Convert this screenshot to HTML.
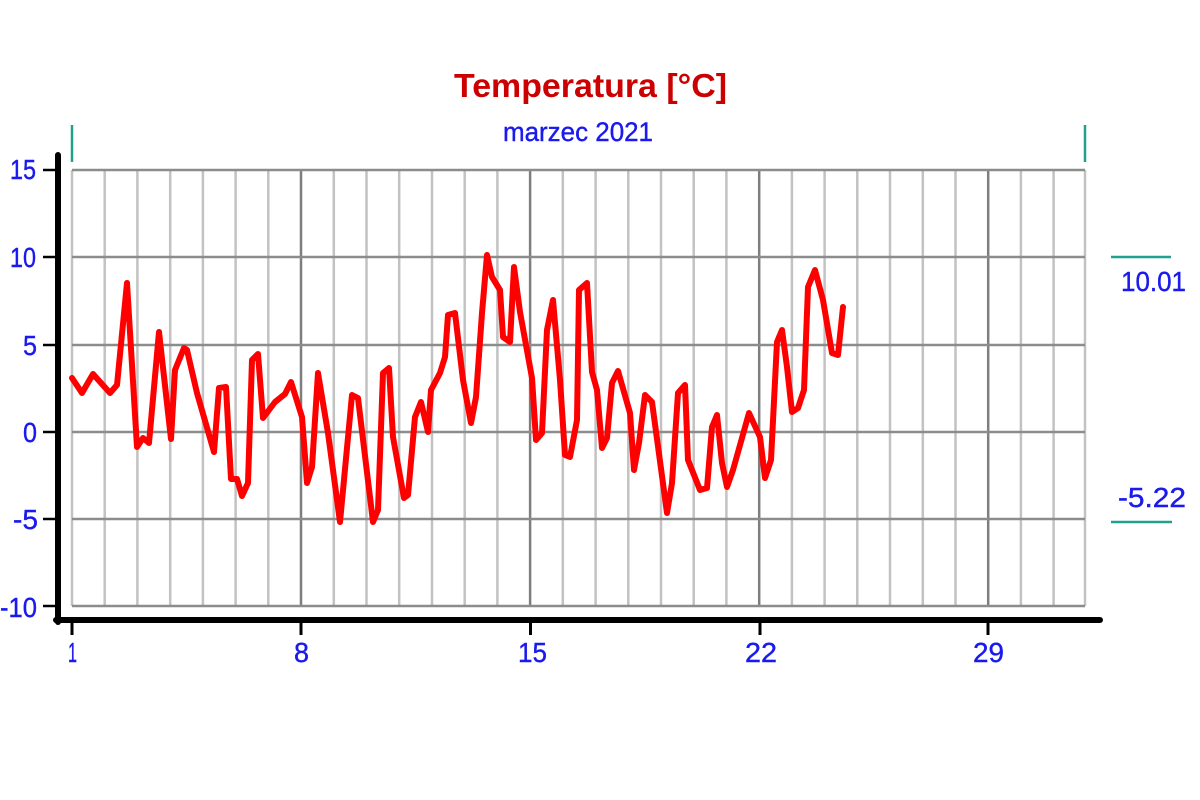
<!DOCTYPE html>
<html>
<head>
<meta charset="utf-8">
<style>
  html,body{margin:0;padding:0;background:#fff;}
  svg{display:block;}
  text{font-family:"Liberation Sans",sans-serif;}
</style>
</head>
<body>
<svg width="1200" height="800" viewBox="0 0 1200 800" xmlns="http://www.w3.org/2000/svg">
  <rect x="0" y="0" width="1200" height="800" fill="#ffffff"/>

  <!-- Title -->
  <text x="454" y="97" font-size="33" font-weight="bold" fill="#cc0000" textLength="273" lengthAdjust="spacingAndGlyphs">Temperatura [°C]</text>
  <text x="503" y="141" font-size="27" fill="#1a1aee" stroke="#1a1aee" stroke-width="0.4" textLength="150" lengthAdjust="spacingAndGlyphs">marzec 2021</text>

  <!-- teal top ticks -->
  <line x1="72" y1="125" x2="72" y2="162" stroke="#20a090" stroke-width="2.5"/>
  <line x1="1085" y1="125" x2="1085" y2="162" stroke="#20a090" stroke-width="2.5"/>

  <!-- vertical grid lines -->
  <g stroke="#c2c2c2" stroke-width="2.5">
    <line x1="72" y1="170" x2="72" y2="606"/>
    <line x1="104.7" y1="170" x2="104.7" y2="606"/>
    <line x1="137.4" y1="170" x2="137.4" y2="606"/>
    <line x1="170.2" y1="170" x2="170.2" y2="606"/>
    <line x1="202.9" y1="170" x2="202.9" y2="606"/>
    <line x1="235.6" y1="170" x2="235.6" y2="606"/>
    <line x1="268.3" y1="170" x2="268.3" y2="606"/>
    <line x1="333.8" y1="170" x2="333.8" y2="606"/>
    <line x1="366.5" y1="170" x2="366.5" y2="606"/>
    <line x1="399.2" y1="170" x2="399.2" y2="606"/>
    <line x1="432" y1="170" x2="432" y2="606"/>
    <line x1="464.7" y1="170" x2="464.7" y2="606"/>
    <line x1="497.4" y1="170" x2="497.4" y2="606"/>
    <line x1="562.8" y1="170" x2="562.8" y2="606"/>
    <line x1="595.6" y1="170" x2="595.6" y2="606"/>
    <line x1="628.3" y1="170" x2="628.3" y2="606"/>
    <line x1="661" y1="170" x2="661" y2="606"/>
    <line x1="693.7" y1="170" x2="693.7" y2="606"/>
    <line x1="726.4" y1="170" x2="726.4" y2="606"/>
    <line x1="791.9" y1="170" x2="791.9" y2="606"/>
    <line x1="824.6" y1="170" x2="824.6" y2="606"/>
    <line x1="857.3" y1="170" x2="857.3" y2="606"/>
    <line x1="890" y1="170" x2="890" y2="606"/>
    <line x1="922.8" y1="170" x2="922.8" y2="606"/>
    <line x1="955.5" y1="170" x2="955.5" y2="606"/>
    <line x1="1020.9" y1="170" x2="1020.9" y2="606"/>
    <line x1="1053.6" y1="170" x2="1053.6" y2="606"/>
    <line x1="1085" y1="170" x2="1085" y2="606"/>
  </g>
  <g stroke="#7e7e7e" stroke-width="2.5">
    <line x1="301" y1="170" x2="301" y2="606"/>
    <line x1="530.1" y1="170" x2="530.1" y2="606"/>
    <line x1="759.2" y1="170" x2="759.2" y2="606"/>
    <line x1="988.2" y1="170" x2="988.2" y2="606"/>
  </g>

  <!-- horizontal grid lines -->
  <g stroke="#8c8c8c" stroke-width="2.5">
    <line x1="72" y1="170" x2="1085" y2="170"/>
    <line x1="72" y1="257" x2="1085" y2="257"/>
    <line x1="72" y1="345" x2="1085" y2="345"/>
    <line x1="72" y1="432" x2="1085" y2="432"/>
    <line x1="72" y1="519" x2="1085" y2="519"/>
    <line x1="72" y1="606" x2="1085" y2="606"/>
  </g>

  <!-- axes -->
  <line x1="58" y1="155" x2="58" y2="622" stroke="#000" stroke-width="6" stroke-linecap="round"/>
  <line x1="56" y1="620" x2="1100" y2="620" stroke="#000" stroke-width="6" stroke-linecap="round"/>

  <!-- left ticks -->
  <g stroke="#000" stroke-width="2.5">
    <line x1="43" y1="170" x2="58" y2="170"/>
    <line x1="43" y1="257" x2="58" y2="257"/>
    <line x1="43" y1="345" x2="58" y2="345"/>
    <line x1="43" y1="432" x2="58" y2="432"/>
    <line x1="43" y1="519" x2="58" y2="519"/>
    <line x1="43" y1="606" x2="58" y2="606"/>
  </g>
  <!-- bottom ticks -->
  <g stroke="#000" stroke-width="3">
    <line x1="72" y1="620" x2="72" y2="635"/>
    <line x1="301" y1="620" x2="301" y2="635"/>
    <line x1="530.5" y1="620" x2="530.5" y2="635"/>
    <line x1="760" y1="620" x2="760" y2="635"/>
    <line x1="988" y1="620" x2="988" y2="635"/>
  </g>

  <!-- left labels -->
  <g font-size="28" fill="#1a1aee" stroke="#1a1aee" stroke-width="0.4">
    <text x="10" y="179" textLength="26" lengthAdjust="spacingAndGlyphs">15</text>
    <text x="10" y="267" textLength="26" lengthAdjust="spacingAndGlyphs">10</text>
    <text x="23" y="355" textLength="14" lengthAdjust="spacingAndGlyphs">5</text>
    <text x="23" y="442" textLength="14" lengthAdjust="spacingAndGlyphs">0</text>
    <text x="13" y="529" textLength="25" lengthAdjust="spacingAndGlyphs">-5</text>
    <text x="0" y="617" textLength="37" lengthAdjust="spacingAndGlyphs">-10</text>
  </g>

  <!-- bottom labels -->
  <g font-size="28" fill="#1a1aee" stroke="#1a1aee" stroke-width="0.4">
    <text x="68" y="662" textLength="9" lengthAdjust="spacingAndGlyphs">1</text>
    <text x="294" y="662" textLength="15" lengthAdjust="spacingAndGlyphs">8</text>
    <text x="518" y="662" textLength="29" lengthAdjust="spacingAndGlyphs">15</text>
    <text x="745" y="662" textLength="32" lengthAdjust="spacingAndGlyphs">22</text>
    <text x="973" y="662" textLength="31" lengthAdjust="spacingAndGlyphs">29</text>
  </g>

  <!-- right min/max -->
  <line x1="1111" y1="257" x2="1171" y2="257" stroke="#20a090" stroke-width="2.5"/>
  <text x="1121" y="291" font-size="28" fill="#1a1aee" stroke="#1a1aee" stroke-width="0.4" textLength="65" lengthAdjust="spacingAndGlyphs">10.01</text>
  <text x="1118" y="507" font-size="28" fill="#1a1aee" stroke="#1a1aee" stroke-width="0.4" textLength="68" lengthAdjust="spacingAndGlyphs">-5.22</text>
  <line x1="1111" y1="522" x2="1172" y2="522" stroke="#20a090" stroke-width="2.5"/>

  <!-- series -->
  <polyline fill="none" stroke="#ff0000" stroke-width="6" stroke-linejoin="round" stroke-linecap="round" points="
72,378 82,393 93,374 110,393 117,385 127,283 137,447 143,438 149,443 159,332 171,439 175,370 184,348 187,350 197,393 214,452 219,388 226,387 231,479 237,479 242,496 248,483 252,360 258,354
263,418 275,402 285,394 291,382 302,417 307,483 312,467 318,373 328,433 340,522 352,395 358,398 373,522 378,510 383,373 389,368 393,437 404,498 408,495 415,417 421,402 428,432 431,390 440,373 445,357 448,315 455,313
463,380 471,423 476,397 482,313 487,255 492,277 500,290 503,337 510,342 514,267 520,312 532,378 536,440 542,433 547,330 553,300 560,380 565,455 570,457 577,420 579,290 587,283 592,372 597,390 602,448 607,438 612,383 618,371 630,413 634,470 639,443 645,395
652,402 667,513 672,483 678,393 685,385 688,460 700,490 707,488 712,427 717,415 722,463 727,487 733,470 749,413 760,437 765,478 771,460 777,342 782,330 787,367 792,412 798,408 804,390 808,287 815,270 823,300 832,353 838,355 843,307"/>
</svg>
</body>
</html>
